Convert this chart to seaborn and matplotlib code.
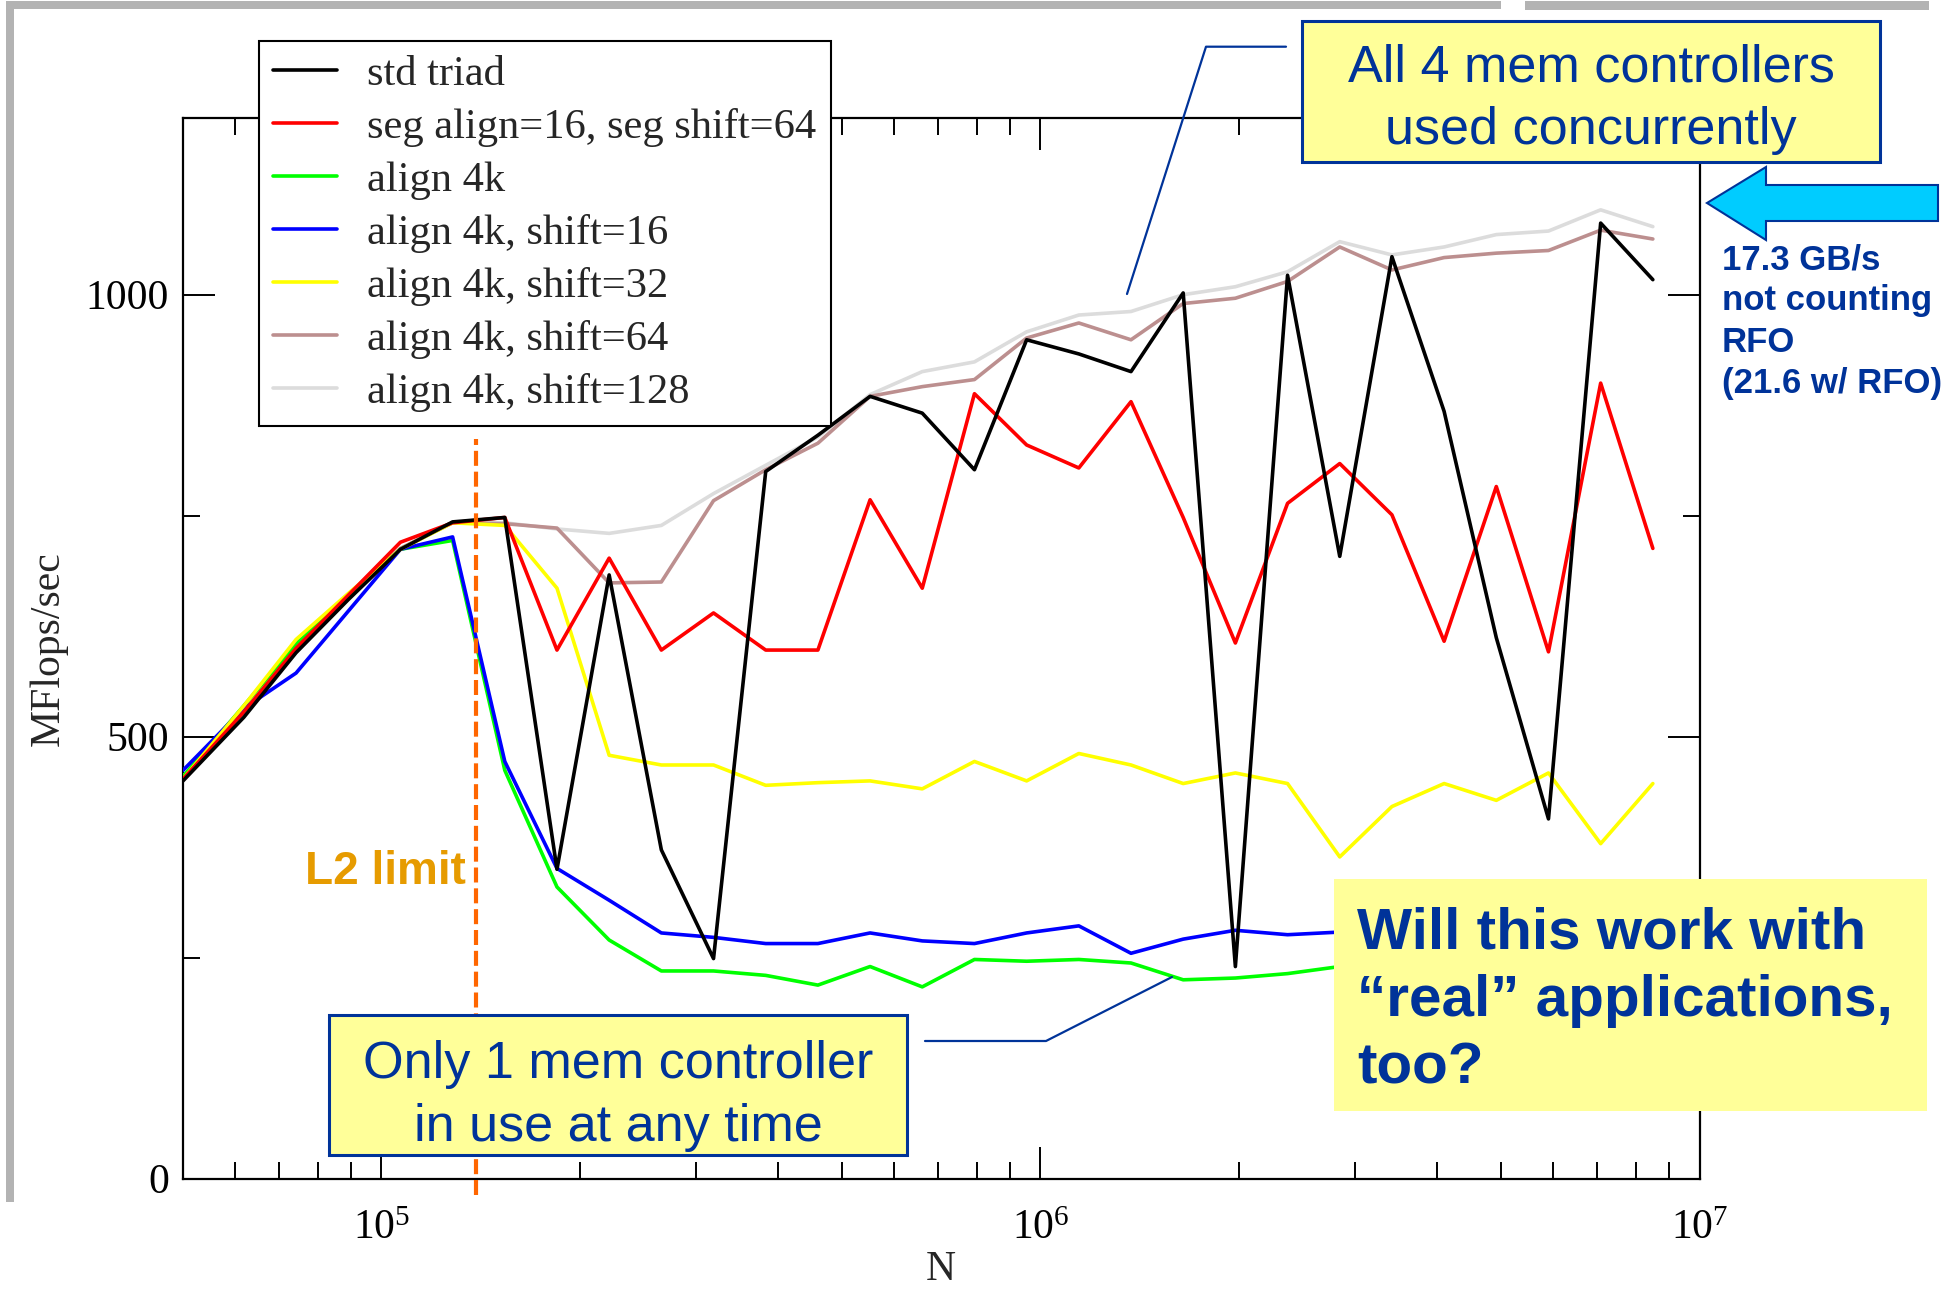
import numpy as np
import pandas as pd
import matplotlib
matplotlib.use("Agg")
import matplotlib.pyplot as plt
import seaborn as sns
from matplotlib.patches import Rectangle, Polygon
from matplotlib.lines import Line2D
from matplotlib.ticker import FixedLocator, NullFormatter, LogLocator

# ---------------- data ----------------
N = [50000, 61848, 74218, 89061, 106873, 128248, 153898, 184677, 221613, 265935,
     319122, 382947, 459536, 551443, 661732, 794078, 952894, 1143473, 1372167,
     1646601, 1975921, 2371105, 2845326, 3414391, 4097270, 4916723, 5900068,
     7080082, 8496098]

std_triad = [450, 522, 595, 655, 712, 743, 748, 350, 683, 372, 249, 800, 841, 885,
             866, 802, 949, 933, 913, 1002, 240, 1022, 704, 1043, 868, 612, 407,
             1081, 1017]
seg_align16_shift64 = [452, 528, 600, 660, 720, 742, 748, 598, 702, 598, 640, 598,
                       598, 768, 668, 888, 830, 804, 879, 748, 606, 764, 809, 751,
                       608, 783, 596, 900, 713]
align4k = [455, 535, 605, 660, 712, 722, 462, 330, 270, 235, 235, 230, 219, 240,
           217, 248, 246, 248, 244, 225, 227, 232, 240]
align4k_shift16 = [462, 532, 572, 642, 712, 726, 472, 351, 315, 278, 273, 266, 266,
                   278, 269, 266, 278, 286, 255, 271, 281, 276, 279]
align4k_shift32 = [452, 535, 610, 662, 712, 742, 739, 668, 479, 468, 468, 445, 448,
                   450, 441, 472, 450, 481, 468, 447, 459, 447, 364, 421, 447, 428,
                   459, 379, 447]
align4k_shift64 = [452, 528, 598, 657, 713, 742, 741, 736, 674, 675, 767, 802, 832,
                   885, 896, 904, 951, 968, 949, 990, 996, 1015, 1054, 1028, 1042,
                   1047, 1050, 1073, 1063]
align4k_shift128 = [455, 530, 600, 658, 713, 742, 742, 735, 730, 739, 775, 807, 839,
                    887, 913, 924, 958, 977, 981, 1000, 1009, 1026, 1060, 1045, 1054,
                    1068, 1072, 1096, 1077]

labels = ["std triad", "seg align=16, seg shift=64", "align 4k", "align 4k, shift=16",
          "align 4k, shift=32", "align 4k, shift=64", "align 4k, shift=128"]
series = [std_triad, seg_align16_shift64, align4k, align4k_shift16,
          align4k_shift32, align4k_shift64, align4k_shift128]
colors = ["#000000", "#ff0000", "#00ff00", "#0000ff", "#ffff00", "#bc8f8f", "#dcdcdc"]
zorders = [9, 8, 5, 6, 7, 4, 3]

L2_limit_N = 139000
y_ticks = [0, 500, 1000]
y_minor = [250, 750]

# ---------------- style ----------------
sns.set_style("ticks")
plt.rcParams["font.family"] = ["Liberation Serif", "DejaVu Serif"]
plt.rcParams["mathtext.fontset"] = "custom"
plt.rcParams["mathtext.rm"] = "Liberation Serif"

W, H = 1948, 1291
fig = plt.figure(figsize=(W / 100, H / 100), dpi=100, facecolor="white")

ax_left, ax_right, ax_top, ax_bottom = 183, 1699.5, 117.9, 1178.7
ax = fig.add_axes([ax_left / W, 1 - ax_bottom / H, (ax_right - ax_left) / W,
                   (ax_bottom - ax_top) / H])
ax.set_xscale("log")

handles = []
for vals, lab, col, z in zip(series, labels, colors, zorders):
    df = pd.DataFrame({"N": N[:len(vals)], "MFlops": vals})
    sns.lineplot(data=df, x="N", y="MFlops", ax=ax, color=col, lw=2.6,
                 zorder=z, legend=False)
    handles.append(Line2D([], [], color=col, lw=2.6))

ax.set_xlim(5e4, 1e7)
ax.set_ylim(0, 1200)
ax.yaxis.set_major_locator(FixedLocator(y_ticks))
ax.yaxis.set_minor_locator(FixedLocator(y_minor))
ax.xaxis.set_minor_locator(LogLocator(base=10, subs=np.arange(2, 10), numticks=100))
ax.xaxis.set_minor_formatter(NullFormatter())

ax.tick_params(which="both", direction="in", top=True, right=True, width=1.4,
               labelsize=30, colors="black")
ax.tick_params(which="major", length=23)
ax.tick_params(which="minor", length=12)
ax.tick_params(axis="y", pad=10)
ax.tick_params(axis="x", pad=22)
for s in ax.spines.values():
    s.set_linewidth(1.6)
    s.set_color("black")

ax.set_xlabel("N", fontsize=30, labelpad=2)
ax.set_ylabel("MFlops/sec", fontsize=30, labelpad=13)

# L2 limit dashed line
ax.axvline(L2_limit_N, ymin=-0.0154, ymax=0.697, color="#ff6600", lw=3,
           ls=(0, (3.6, 1.4)), clip_on=False, zorder=10)

# legend
leg = ax.legend(handles, labels, loc="upper left",
                bbox_to_anchor=(259 / W, 1 - 41 / H), bbox_transform=fig.transFigure,
                fontsize=30.6, frameon=True, fancybox=False, framealpha=1,
                edgecolor="black", borderpad=0.33, handlelength=1.5,
                handletextpad=0.72, labelspacing=0.33, borderaxespad=0)
leg.get_frame().set_linewidth(1.5)
leg.set_zorder(20)


def fx(x):
    return x / W


def fy(y):
    return 1 - y / H


def rect(x0, y0, x1, y1, **kw):
    r = Rectangle((fx(x0), fy(y1)), (x1 - x0) / W, (y1 - y0) / H,
                  transform=fig.transFigure, **kw)
    fig.add_artist(r)


# slide frame
gray = "#b3b3b3"
rect(6, 1, 1501, 9, facecolor=gray, edgecolor="none", zorder=30)
rect(1525, 1, 1929, 10, facecolor=gray, edgecolor="none", zorder=30)
rect(6, 1, 14, 1202, facecolor=gray, edgecolor="none", zorder=30)

navy = "#003399"
sans = ["Liberation Sans", "DejaVu Sans"]

# All 4 mem controllers box
rect(1302, 21, 1880, 161.5, facecolor="#ffff99", edgecolor=navy, lw=2.2, zorder=30)
fig.text(fx(1591), fy(99), "All 4 mem controllers\nused concurrently", ha="center",
         va="center", fontsize=37.5, color=navy, family=sans, linespacing=1.36,
         zorder=31)
fig.add_artist(Line2D([fx(1286), fx(1206), fx(1127)], [fy(46.7), fy(46.7), fy(294)],
                      color=navy, lw=1.6, transform=fig.transFigure, zorder=30))

# Only 1 mem controller box
rect(329, 1015, 907, 1155, facecolor="#ffff99", edgecolor=navy, lw=2.2, zorder=30)
fig.text(fx(618), fy(1096), "Only 1 mem controller\nin use at any time", ha="center",
         va="center", fontsize=37.5, color=navy, family=sans, linespacing=1.36,
         zorder=31)
fig.add_artist(Line2D([fx(925), fx(1046), fx(1172)], [fy(1041), fy(1041), fy(977)],
                      color=navy, lw=1.6, transform=fig.transFigure, zorder=30))

# Will this work box
rect(1334, 879, 1927, 1111, facecolor="#ffff99", edgecolor="none", zorder=30)
fig.text(fx(1357), fy(1001), "Will this work with\n\u201creal\u201d applications,\ntoo?",
         ha="left", va="center", fontsize=42, fontweight="bold", color=navy,
         family=sans, linespacing=1.33, zorder=31)

# L2 limit label
fig.text(fx(466), fy(872), "L2 limit", ha="right", va="center", fontsize=33,
         fontweight="bold", color="#e69b00", family=sans, zorder=31)

# cyan arrow
arrow_px = [(1707, 203), (1766, 167), (1766, 185), (1938, 185), (1938, 221),
            (1766, 221), (1766, 240)]
fig.add_artist(Polygon([(fx(x), fy(y)) for x, y in arrow_px], closed=True,
                       facecolor="#00ccff", edgecolor=navy, lw=1.5,
                       transform=fig.transFigure, zorder=30))
fig.text(fx(1722), fy(321.5), "17.3 GB/s\nnot counting\nRFO\n(21.6 w/ RFO)",
         ha="left", va="center", fontsize=25, fontweight="bold", color=navy,
         family=sans, linespacing=1.31, zorder=31)

fig.savefig("out.png", dpi=100, facecolor="white")
